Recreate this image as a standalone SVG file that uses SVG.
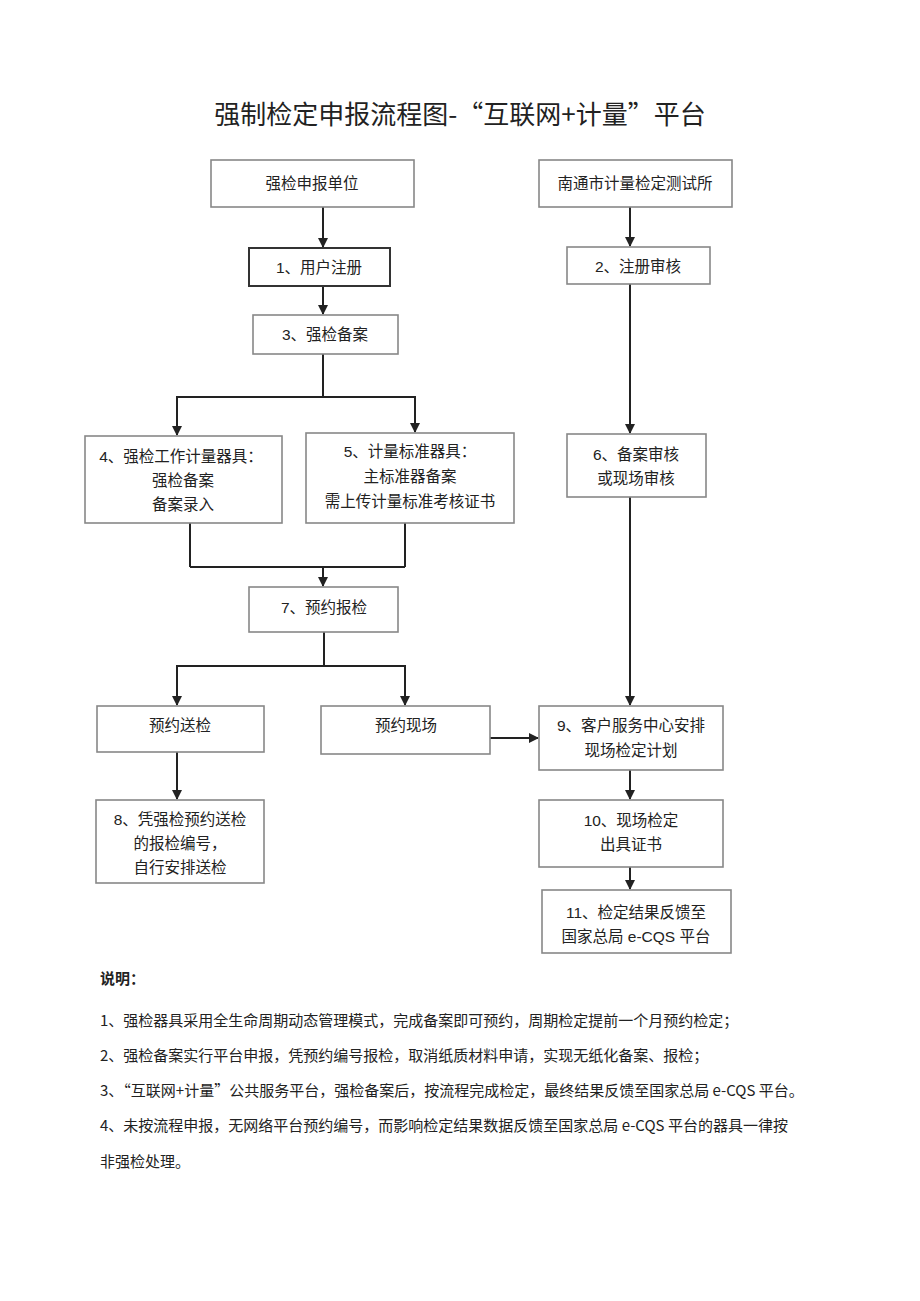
<svg xmlns="http://www.w3.org/2000/svg" width="920" height="1301" viewBox="0 0 920 1301">
<style>
text{font-family:"Liberation Sans","Noto Sans CJK SC",sans-serif;fill:#222;}
.t{font-size:15.5px;text-anchor:middle;dominant-baseline:central;}
.box{fill:#fff;stroke:#888;stroke-width:1.6;}
.dark{fill:#fff;stroke:#333;stroke-width:2;}
.c{fill:none;stroke:#222;stroke-width:2;}
.n{font-size:15px;font-family:"Noto Sans CJK SC",sans-serif;}
</style>
<defs>
<marker id="ah" viewBox="0 0 10 10" refX="9" refY="5" markerWidth="5" markerHeight="5" orient="auto" markerUnits="strokeWidth">
<path d="M0,0 L10,5 L0,10 z" fill="#222"/>
</marker>
</defs>
<rect width="920" height="1301" fill="#fff"/>
<text x="460" y="124" style="font-size:26px;text-anchor:middle;fill:#222;font-family:'Noto Sans CJK SC',sans-serif">强制检定申报流程图-“互联网+计量”平台</text>

<g id="connectors">
<path class="c" marker-end="url(#ah)" d="M323,207 V247"/>
<path class="c" marker-end="url(#ah)" d="M323,286 V314"/>
<path class="c" d="M323,354 V397 M177,397 H415"/>
<path class="c" marker-end="url(#ah)" d="M177,396 V435"/>
<path class="c" marker-end="url(#ah)" d="M415,396 V432"/>
<path class="c" d="M190,523 V567 M405,523 V567 M190,567 H405"/>
<path class="c" marker-end="url(#ah)" d="M323,567 V586"/>
<path class="c" d="M324,632 V666 M177,666 H405"/>
<path class="c" marker-end="url(#ah)" d="M177,665 V705"/>
<path class="c" marker-end="url(#ah)" d="M405,665 V705"/>
<path class="c" marker-end="url(#ah)" d="M177,752 V799"/>
<path class="c" marker-end="url(#ah)" d="M490,738 H538"/>
<path class="c" marker-end="url(#ah)" d="M630,207 V246"/>
<path class="c" marker-end="url(#ah)" d="M630,284 V433"/>
<path class="c" marker-end="url(#ah)" d="M630,497 V705"/>
<path class="c" marker-end="url(#ah)" d="M630,770 V799"/>
<path class="c" marker-end="url(#ah)" d="M630,867 V889"/>
</g>

<g id="n_unit"><rect class="box" x="211" y="160" width="203" height="47"/><text class="t" x="312" y="183">强检申报单位</text></g>
<g id="n_inst"><rect class="box" x="539" y="160" width="193" height="47"/><text class="t" x="635" y="183">南通市计量检定测试所</text></g>
<g id="n1"><rect class="dark" x="249" y="248" width="141" height="38"/><text class="t" x="319" y="267">1、用户注册</text></g>
<g id="n2"><rect class="box" x="567" y="247" width="143" height="37"/><text class="t" x="638" y="266">2、注册审核</text></g>
<g id="n3"><rect class="box" x="253" y="315" width="145" height="39"/><text class="t" x="325" y="334">3、强检备案</text></g>
<g id="n4"><rect class="box" x="85" y="436" width="197" height="87"/>
<text class="t" x="181" y="456">4、强检工作计量器具：</text>
<text class="t" x="183" y="480">强检备案</text>
<text class="t" x="183" y="504">备案录入</text></g>
<g id="n5"><rect class="box" x="306" y="433" width="208" height="90"/>
<text class="t" x="410" y="451">5、计量标准器具：</text>
<text class="t" x="410" y="476">主标准器备案</text>
<text class="t" x="410" y="501">需上传计量标准考核证书</text></g>
<g id="n6"><rect class="box" x="567" y="434" width="139" height="63"/>
<text class="t" x="636" y="454">6、备案审核</text>
<text class="t" x="636" y="478">或现场审核</text></g>
<g id="n7"><rect class="box" x="249" y="587" width="149" height="45"/><text class="t" x="324" y="607">7、预约报检</text></g>
<g id="n_send"><rect class="box" x="97" y="706" width="167" height="46"/><text class="t" x="180" y="725">预约送检</text></g>
<g id="n_site"><rect class="box" x="321" y="706" width="169" height="48"/><text class="t" x="406" y="725">预约现场</text></g>
<g id="n8"><rect class="box" x="96" y="800" width="168" height="83"/>
<text class="t" x="180" y="819">8、凭强检预约送检</text>
<text class="t" x="180" y="843">的报检编号，</text>
<text class="t" x="180" y="867">自行安排送检</text></g>
<g id="n9"><rect class="box" x="539" y="706" width="184" height="64"/>
<text class="t" x="631" y="725">9、客户服务中心安排</text>
<text class="t" x="631" y="750">现场检定计划</text></g>
<g id="n10"><rect class="box" x="539" y="800" width="184" height="67"/>
<text class="t" x="631" y="820">10、现场检定</text>
<text class="t" x="631" y="844">出具证书</text></g>
<g id="n11"><rect class="box" x="542" y="890" width="189" height="63"/>
<text class="t" x="636" y="912">11、检定结果反馈至</text>
<text class="t" x="636" y="936">国家总局 e-CQS 平台</text></g>

<g id="notes">
<text class="n" x="100" y="984" style="font-weight:bold">说明：</text>
<text class="n" x="100" y="1026">1、强检器具采用全生命周期动态管理模式，完成备案即可预约，周期检定提前一个月预约检定；</text>
<text class="n" x="100" y="1061">2、强检备案实行平台申报，凭预约编号报检，取消纸质材料申请，实现无纸化备案、报检；</text>
<text class="n" x="100" y="1096">3、“互联网+计量”公共服务平台，强检备案后，按流程完成检定，最终结果反馈至国家总局 e-CQS 平台。</text>
<text class="n" x="100" y="1131">4、未按流程申报，无网络平台预约编号，而影响检定结果数据反馈至国家总局 e-CQS 平台的器具一律按</text>
<text class="n" x="100" y="1167">非强检处理。</text>
</g>
</svg>
